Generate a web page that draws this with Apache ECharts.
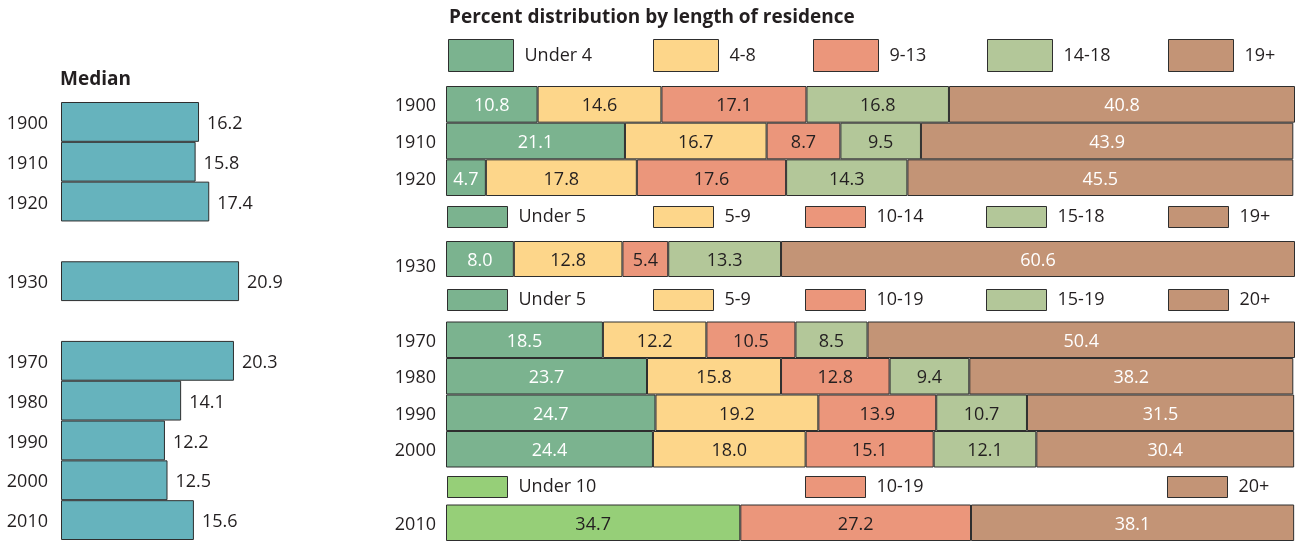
<!DOCTYPE html>
<html>
<head>
<meta charset="utf-8">
<script src="https://cdn.jsdelivr.net/npm/echarts@6/dist/echarts.min.js"></script>
<style>
  html, body { margin: 0; padding: 0; background: #ffffff; }
  #chart { width: 1297px; height: 541px; }
</style>
</head>
<body>
<div id="chart"></div>
<script>
// ---------- DATA ----------
// Median length of residence (left panel)
const medianYears = ['1900', '1910', '1920', '1930', '1970', '1980', '1990', '2000', '2010'];
const medianValues = [16.2, 15.8, 17.4, 20.9, 20.3, 14.1, 12.2, 12.5, 15.6];

// Group A: 1900-1920
const yearsA = ['1900', '1910', '1920'];
const namesA = ['Under 4', '4-8', '9-13', '14-18', '19+'];
const a_under4 = [10.8, 21.1, 4.7];
const a_4to8 = [14.6, 16.7, 17.8];
const a_9to13 = [17.1, 8.7, 17.6];
const a_14to18 = [16.8, 9.5, 14.3];
const a_19plus = [40.8, 43.9, 45.5];

// Group B: 1930
const yearsB = ['1930'];
const namesB = ['Under 5', '5-9', '10-14', '15-18', '19+'];
const b_under5 = [8.0];
const b_5to9 = [12.8];
const b_10to14 = [5.4];
const b_15to18 = [13.3];
const b_19plus = [60.6];

// Group C: 1970-2000
const yearsC = ['1970', '1980', '1990', '2000'];
const namesC = ['Under 5', '5-9', '10-19', '15-19', '20+'];
const c_under5 = [18.5, 23.7, 24.7, 24.4];
const c_5to9 = [12.2, 15.8, 19.2, 18.0];
const c_10to19 = [10.5, 12.8, 13.9, 15.1];
const c_15to19 = [8.5, 9.4, 10.7, 12.1];
const c_20plus = [50.4, 38.2, 31.5, 30.4];

// Group D: 2010
const yearsD = ['2010'];
const namesD = ['Under 10', '10-19', '20+'];
const d_under10 = [34.7];
const d_10to19 = [27.2];
const d_20plus = [38.1];

// ---------- STYLE ----------
const FONT = 'Open Sans';
const TXT = '#231f20';
const BORDER = '#2e2e2e';
const C_GREEN = '#7bb38f';
const C_YELLOW = '#fdd68a';
const C_RED = '#eb967b';
const C_LGREEN = '#b3c799';
const C_BROWN = '#c39476';
const C_BGREEN = '#96cf78';
const C_TEAL = '#66b3bd';

// left panel categories with gaps
const leftCats = [];
const leftVals = [];
medianYears.forEach((y, i) => {
  if (y === '1930') { leftCats.push(' '); leftVals.push('-'); }
  if (y === '1970') { leftCats.push('  '); leftVals.push('-'); }
  leftCats.push(y); leftVals.push(medianValues[i]);
});

const grids = [
  { left: 61, top: 102, width: 213, height: 438 },      // 0 left median
  { left: 446, top: 86, width: 849, height: 110 },      // 1 A
  { left: 446, top: 241, width: 849, height: 36 },      // 2 B
  { left: 446, top: 321.5, width: 849, height: 146 },   // 3 C
  { left: 446, top: 504.5, width: 849, height: 36.5 }   // 4 D
];

const xAxes = grids.map((g, i) => ({
  gridIndex: i, type: 'value', min: 0, max: i === 0 ? 25 : 100.1, show: false
}));

function yAx(i, data, margin, padTop) {
  return {
    gridIndex: i, type: 'category', data: data, inverse: true,
    axisLine: { show: false }, axisTick: { show: false }, splitLine: { show: false },
    axisLabel: {
      margin: margin,
      formatter: v => '{t|' + v + '}',
      rich: { t: { fontFamily: FONT, fontSize: 18, color: TXT, padding: [padTop, 0, 0, 0] } }
    }
  };
}
const yAxes = [
  yAx(0, leftCats, 13, 4),
  yAx(1, yearsA, 10, 4),
  yAx(2, yearsB, 10, 16),
  yAx(3, yearsC, 10, 4),
  yAx(4, yearsD, 10, 4)
];

function stackSeries(gi, name, data, color, labelColor) {
  return {
    type: 'bar', name: name, xAxisIndex: gi, yAxisIndex: gi, stack: 'g' + gi,
    data: data, barCategoryGap: '0%', barWidth: '100%',
    itemStyle: { color: color, borderColor: BORDER, borderWidth: 1 },
    label: {
      show: true, position: 'inside', fontFamily: FONT, fontSize: 18, color: labelColor,
      offset: [0, 2],
      formatter: p => Number(p.value).toFixed(1)
    },
    emphasis: { disabled: true }, animation: false
  };
}

const series = [
  {
    type: 'bar', name: 'Median', xAxisIndex: 0, yAxisIndex: 0, data: leftVals,
    barCategoryGap: '0%', barWidth: '100%',
    itemStyle: { color: C_TEAL, borderColor: BORDER, borderWidth: 1 },
    label: { show: true, position: 'right', distance: 8, offset: [0, 2], fontFamily: FONT, fontSize: 18, color: TXT,
      formatter: p => Number(p.value).toFixed(1) },
    emphasis: { disabled: true }, animation: false
  },
  stackSeries(1, namesA[0], a_under4, C_GREEN, '#ffffff'),
  stackSeries(1, namesA[1], a_4to8, C_YELLOW, TXT),
  stackSeries(1, namesA[2], a_9to13, C_RED, TXT),
  stackSeries(1, namesA[3], a_14to18, C_LGREEN, TXT),
  stackSeries(1, namesA[4], a_19plus, C_BROWN, '#ffffff'),
  stackSeries(2, namesB[0], b_under5, C_GREEN, '#ffffff'),
  stackSeries(2, namesB[1], b_5to9, C_YELLOW, TXT),
  stackSeries(2, namesB[2], b_10to14, C_RED, TXT),
  stackSeries(2, namesB[3], b_15to18, C_LGREEN, TXT),
  stackSeries(2, namesB[4], b_19plus, C_BROWN, '#ffffff'),
  stackSeries(3, namesC[0], c_under5, C_GREEN, '#ffffff'),
  stackSeries(3, namesC[1], c_5to9, C_YELLOW, TXT),
  stackSeries(3, namesC[2], c_10to19, C_RED, TXT),
  stackSeries(3, namesC[3], c_15to19, C_LGREEN, TXT),
  stackSeries(3, namesC[4], c_20plus, C_BROWN, '#ffffff'),
  stackSeries(4, namesD[0], d_under10, C_BGREEN, TXT),
  stackSeries(4, namesD[1], d_10to19, C_RED, TXT),
  stackSeries(4, namesD[2], d_20plus, C_BROWN, '#ffffff')
];

function legendItem(name, left, top, w, h) {
  return {
    data: [name], left: left, top: top, padding: 0, orient: 'horizontal',
    icon: 'rect', itemWidth: w, itemHeight: h, selectedMode: false,
    itemStyle: { borderColor: BORDER, borderWidth: 1 },
    textStyle: { fontFamily: FONT, fontSize: 18, color: TXT, padding: [2, 0, 0, 6] }
  };
}
const xsTop = [448, 653, 813, 987, 1168];
const xsMid = [447, 653, 805, 986, 1168];
const legends = [];
namesA.forEach((n, i) => legends.push(legendItem(n, xsTop[i], 39, 65, 32)));
namesB.forEach((n, i) => legends.push(legendItem(n, xsMid[i], 206, 60, 21)));
namesC.forEach((n, i) => legends.push(legendItem(n, xsMid[i], 289, 60, 21)));
const xsD = [447, 805, 1167];
namesD.forEach((n, i) => legends.push(legendItem(n, xsD[i], 476, 60, 21)));

const option = {
  backgroundColor: '#ffffff',
  animation: false,
  title: [
    { text: 'Percent distribution by length of residence', left: 449, top: 8, padding: 0,
      textStyle: { fontFamily: FONT, fontSize: 19, fontWeight: 'bold', color: TXT } },
    { text: 'Median', left: 60, top: 70, padding: 0,
      textStyle: { fontFamily: FONT, fontSize: 19, fontWeight: 'bold', color: TXT } }
  ],
  legend: legends,
  grid: grids,
  xAxis: xAxes,
  yAxis: yAxes,
  series: series
};

const chart = echarts.init(document.getElementById('chart'), null, { renderer: 'canvas' });
chart.setOption(option);
</script>
</body>
</html>
